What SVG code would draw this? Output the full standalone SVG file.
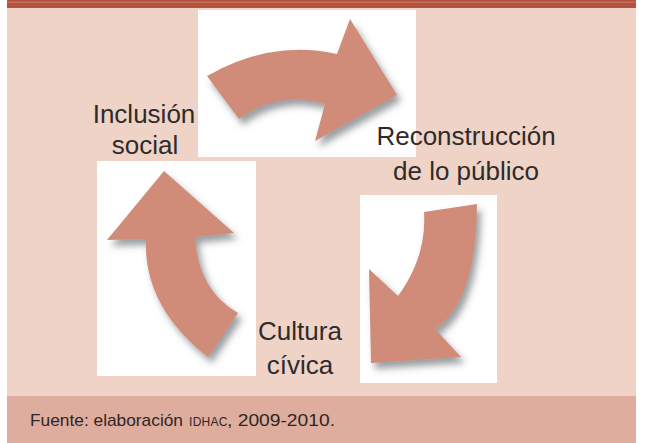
<svg xmlns="http://www.w3.org/2000/svg" width="645" height="443" viewBox="0 0 645 443">
  <style>
    .lbl { font-family: "Liberation Sans", Arial, sans-serif; font-size: 26px; fill: #2e2b2a; text-anchor: middle; }
    .foot { font-family: "Liberation Sans", Arial, sans-serif; font-size: 17px; fill: #2e2624; }
    .foot.sc { font-size: 12px; letter-spacing: 0.3px; }
    .box { fill: #ffffff; }
    .arrow { fill: #d08b79; filter: url(#shadow); }
  </style>
  <defs>
    <filter id="shadow" x="-20%" y="-20%" width="150%" height="150%">
      <feDropShadow dx="4" dy="6" stdDeviation="3.5" flood-color="#4a4f55" flood-opacity="0.55"/>
    </filter>
  </defs>
  <rect x="0" y="0" width="645" height="443" fill="#ffffff"/>
  <rect x="7" y="0" width="629" height="8" fill="#b5533f"/>
  <rect x="7" y="1.5" width="629" height="1.5" fill="#c7705b"/>
  <rect x="7" y="8" width="629" height="388" fill="#f0d3c7"/>
  <rect x="7" y="396" width="629" height="47" fill="#dfad9e"/>

  <g id="connectors">
    <g id="arrow-inclusion-reconstruccion">
      <rect class="box" x="198" y="10" width="218" height="147"/>
      <path class="arrow" d="M207,76 Q272,39 337,54 L350,19 L397,95 L315,141 L325,104 Q278,90 239,119 Z"/>
    </g>
    <g id="arrow-cultura-inclusion">
      <rect class="box" x="97" y="161" width="159" height="215"/>
      <path class="arrow" d="M164,171 L234,233 L195,237 Q198,290 238,313 L208,357 Q143,306 146,239 L107,240 Z"/>
    </g>
    <g id="arrow-reconstruccion-cultura">
      <rect class="box" x="360" y="195" width="137" height="188"/>
      <path class="arrow" d="M424,212 L477,204 Q476,303 435,329 L461,357 L371,363 L369,269 L398,296 Q427,256 424,212 Z"/>
    </g>
  </g>

  <g id="node-inclusion">
    <text class="lbl" x="144" y="123">Inclusión</text>
    <text class="lbl" x="145" y="154">social</text>
  </g>
  <g id="node-reconstruccion">
    <text class="lbl" x="466" y="145">Reconstrucción</text>
    <text class="lbl" x="466" y="180">de lo público</text>
  </g>
  <g id="node-cultura">
    <text class="lbl" x="300" y="340">Cultura</text>
    <text class="lbl" x="300" y="374">cívica</text>
  </g>

  <g id="footer">
    <text class="foot" x="30" y="426" textLength="153" lengthAdjust="spacingAndGlyphs">Fuente: elaboración</text>
    <text class="foot sc" x="189" y="426">IDHAC</text>
    <text class="foot" x="227" y="426" textLength="108" lengthAdjust="spacingAndGlyphs">, 2009-2010.</text>
  </g>
</svg>
